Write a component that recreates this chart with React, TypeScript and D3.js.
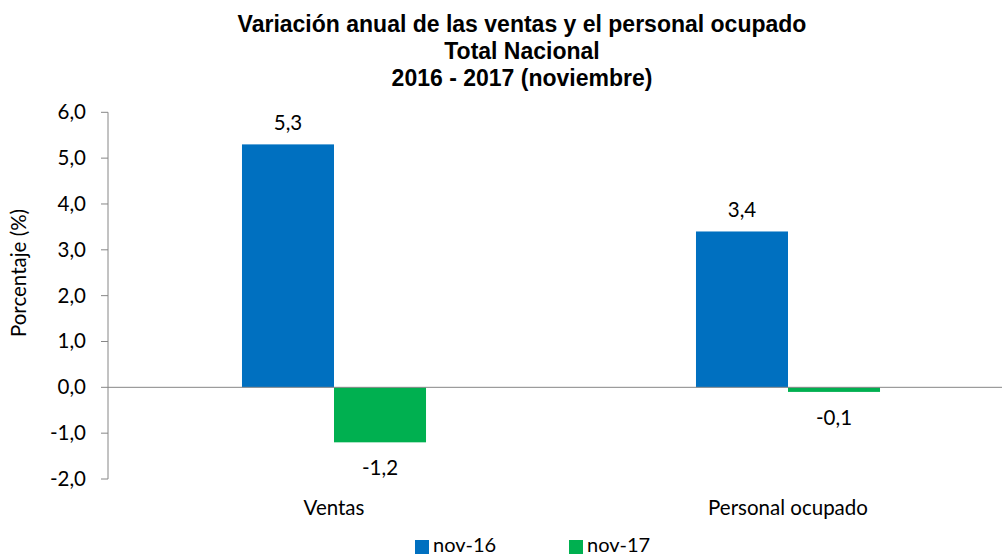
import React from "react";
import * as d3 from "d3";

const categories = ["Ventas", "Personal ocupado"];
const seriesNames = ["nov-16", "nov-17"];
const nov16 = [5.3, 3.4];
const nov17 = [-1.2, -0.1];
const yTicks = [-2, -1, 0, 1, 2, 3, 4, 5, 6];
const titleLines = [
  "Variación anual de las ventas y el personal ocupado",
  "Total Nacional",
  "2016 - 2017 (noviembre)",
];
const colors = ["#0070C0", "#00B050"];

const W = 1002;
const H = 556;
const left = 108;
const right = 1016;
const top = 112.3;
const bottom = 479;
const labelFont = "Lato, 'Open Sans', sans-serif";
const fs = 20.5;
const fmt = (v: number) => v.toFixed(1).replace(".", ",");

export default function App() {
  const y = d3.scaleLinear().domain([-2, 6]).range([bottom, top]);
  const x0 = d3.scaleBand<string>().domain(categories).range([left - 1, right - 1]);
  const bw = x0.bandwidth();
  const x1 = d3
    .scaleBand<string>()
    .domain(seriesNames)
    .range([0, bw])
    .paddingInner(0)
    .paddingOuter(1.467);
  const values = [nov16, nov17];
  const y0 = y(0);

  return (
    <svg
      width={W}
      height={H}
      style={{ position: "absolute", left: 0, top: 0, background: "#fff" }}
    >
      <rect x={0} y={0} width={W} height={H} fill="#fff" />
      {titleLines.map((t, i) => (
        <text
          key={i}
          x={522}
          y={32 + i * 27}
          textAnchor="middle"
          fontFamily="Arial, 'Liberation Sans', sans-serif"
          fontWeight="bold"
          fontSize={23}
          fill="#000"
        >
          {t}
        </text>
      ))}
      {/* bars */}
      {categories.map((c, ci) =>
        seriesNames.map((s, si) => {
          const v = values[si][ci];
          const bx = (x0(c) as number) + (x1(s) as number);
          const by = v >= 0 ? y(v) : y0;
          const bh = Math.abs(y(v) - y0);
          return (
            <rect
              key={c + s}
              x={bx}
              y={by}
              width={x1.bandwidth()}
              height={bh}
              fill={colors[si]}
            />
          );
        })
      )}
      {/* data labels */}
      {categories.map((c, ci) =>
        seriesNames.map((s, si) => {
          const v = values[si][ci];
          const cx = (x0(c) as number) + (x1(s) as number) + x1.bandwidth() / 2;
          const ty = v >= 0 ? y(v) - 14 : y(v) + 33;
          return (
            <text
              key={"l" + c + s}
              x={cx}
              y={ty}
              textAnchor="middle"
              fontFamily={labelFont}
              fontSize={fs}
              fill="#000"
            >
              {fmt(v)}
            </text>
          );
        })
      )}
      {/* axes */}
      <line x1={left} x2={left} y1={top} y2={bottom} stroke="#868686" strokeWidth={1} />
      <line x1={left} x2={right} y1={y0} y2={y0} stroke="#868686" strokeWidth={1} />
      {yTicks.map((t) => (
        <g key={t}>
          <line x1={left - 7} x2={left} y1={y(t)} y2={y(t)} stroke="#868686" />
          <text
            x={left - 22}
            y={y(t) + 7}
            textAnchor="end"
            fontFamily={labelFont}
            fontSize={fs}
            fill="#000"
          >
            {fmt(t)}
          </text>
        </g>
      ))}
      <text
        transform={`translate(26,273) rotate(-90)`}
        textAnchor="middle"
        fontFamily={labelFont}
        fontSize={fs}
        fill="#000"
      >
        Porcentaje (%)
      </text>
      {categories.map((c) => (
        <text
          key={"c" + c}
          x={(x0(c) as number) + bw / 2}
          y={515}
          textAnchor="middle"
          fontFamily={labelFont}
          fontSize={fs}
          fill="#000"
        >
          {c}
        </text>
      ))}
      {/* legend */}
      {seriesNames.map((s, i) => {
        const lx = 415 + i * 154;
        return (
          <g key={"lg" + s}>
            <rect x={lx} y={540} width={14} height={14} fill={colors[i]} />
            <text
              x={lx + 18}
              y={552}
              fontFamily={labelFont}
              fontSize={20}
              fill="#000"
            >
              {s}
            </text>
          </g>
        );
      })}
    </svg>
  );
}
